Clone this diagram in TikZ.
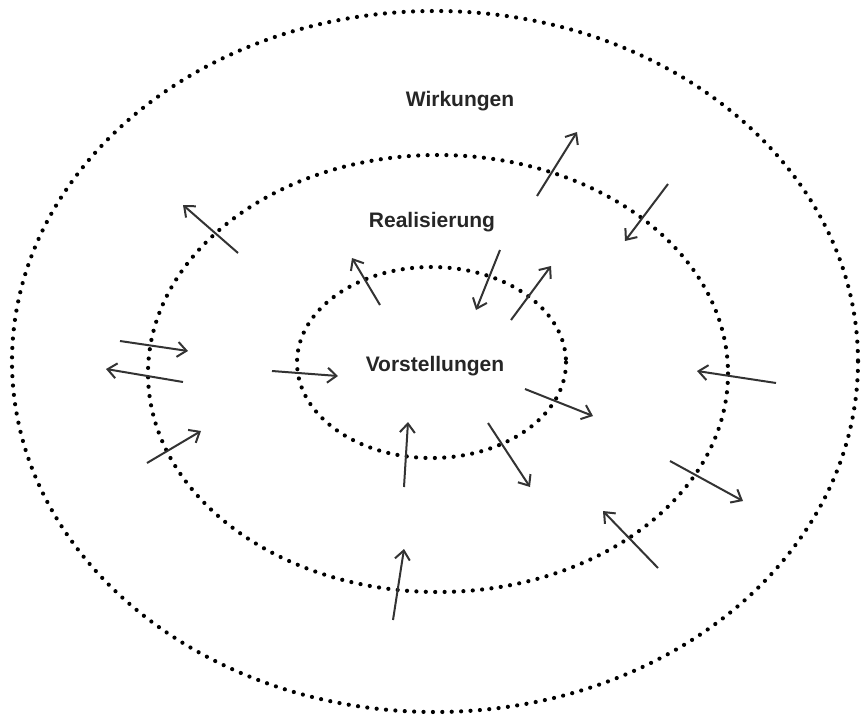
\documentclass[tikz,border=0pt]{standalone}
\usepackage{fontspec}
\setmainfont{Liberation Sans}
\usetikzlibrary{arrows.meta}

\begin{document}
\begin{tikzpicture}[x=1pt, y=-1pt,
    ring/.style={line width=4.2pt, line cap=round, dash pattern=on 0pt off 9.4pt, black},
    arr/.style={line width=2pt, black!80, -{Straight Barb[length=9pt, width=15pt, line width=2pt]}},
    lbl/.style={font=\fontsize{21}{25}\selectfont\bfseries, inner sep=0pt, text=black!85}]

    \useasboundingbox (0,0) rectangle (862,715);

    % Rings
    \draw[ring] (435,361.5) ellipse [x radius=423, y radius=350.5];
    \draw[ring] (438,373.5) ellipse [x radius=290, y radius=218.5];
    \draw[ring] (431.5,362.5) ellipse [x radius=134.5, y radius=95.5];

    % Labels
    \node[lbl] (wirk) at (460,101) {Wirkungen};
    \node[lbl] (real) at (432,222) {Realisierung};
    \node[lbl] (vorst) at (435,366) {Vorstellungen};

    % Arrows
    \foreach \xa/\ya/\xb/\yb in {537/196/577/132, 668/184/625/241, 238/253/183/205,
        380/305/352/258, 500/250/476/310, 511/320/551/266, 120/341/188/351,
        183/382/106/369, 272/371/338/376, 776/383/697/371, 525/389/593/416,
        147/463/201/431, 404/487/408/422, 488/423/530/487, 670/461/743/501,
        658/568/603/511, 393/620/404/549}
        \draw[arr] (\xa,\ya) -- (\xb,\yb);

\end{tikzpicture}
\end{document}
